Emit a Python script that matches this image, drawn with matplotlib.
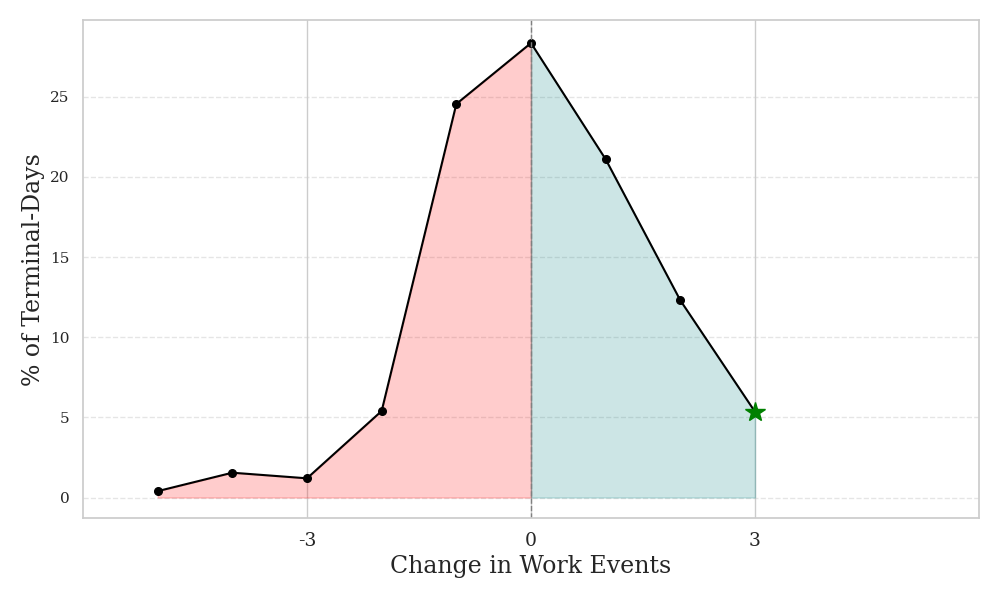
import matplotlib
matplotlib.use('Agg')
import matplotlib.pyplot as plt
import seaborn as sns
import numpy as np

# change in work events vs share of terminal-days
change = [-5, -4, -3, -2, -1, 0, 1, 2, 3]
pct = [0.4, 1.55, 1.2, 5.4, 24.55, 28.35, 21.1, 12.3, 5.35]
tick_pos = [-3, 0, 3]
tick_lbl = ['-3', '0', '3']

sns.set_theme(style='whitegrid')
plt.rcParams['font.family'] = ['DejaVu Serif']

x = np.array(change)
y = np.array(pct)

fig, ax = plt.subplots(figsize=(10, 6), dpi=100)

neg = x <= 0
pos = x >= 0
ax.fill_between(x[neg], y[neg], 0, color='red', alpha=0.2)
ax.fill_between(x[pos], y[pos], 0, color='teal', alpha=0.2)
ax.plot(x, y, color='black', marker='o', markersize=5.5, linewidth=1.5)
ax.plot(x[-1], y[-1], marker='*', color='green', markersize=15, linestyle='none')
ax.axvline(0, color='gray', linestyle='--', linewidth=1)

ax.set_xlim(-6, 6)
ax.set_ylim(-1.3, 29.8)
ax.set_xticks(tick_pos)
ax.set_xticklabels(tick_lbl, fontsize=13.5)
ax.tick_params(axis='y', labelsize=11)
ax.grid(axis='y', linestyle='--', alpha=0.5)
ax.set_xlabel('Change in Work Events', fontsize=17)
ax.set_ylabel('% of Terminal-Days', fontsize=17)

plt.tight_layout()
plt.subplots_adjust(left=0.083, right=0.979, top=0.967, bottom=0.136)
plt.savefig('out.png')
